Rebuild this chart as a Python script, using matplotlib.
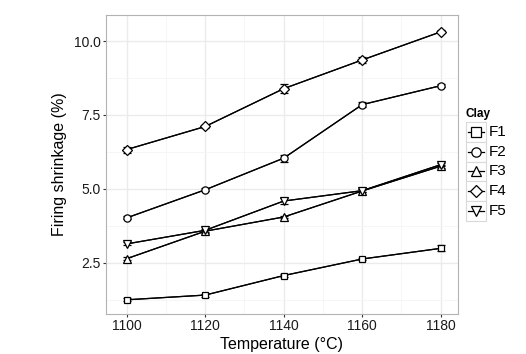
import matplotlib
matplotlib.use("Agg")
import matplotlib.pyplot as plt
from matplotlib.patches import Rectangle
from matplotlib.lines import Line2D

plt.rcParams['font.family'] = ['Liberation Sans', 'DejaVu Sans']

temps = [1100, 1120, 1140, 1160, 1180]
series_names = ["F1", "F2", "F3", "F4", "F5"]
F1 = [1.25, 1.41, 2.07, 2.63, 2.99]
F2 = [4.02, 4.97, 6.04, 7.85, 8.49]
F3 = [2.64, 3.57, 4.05, 4.93, 5.77]
F4 = [6.33, 7.11, 8.39, 9.36, 10.31]
F5 = [3.14, 3.60, 4.59, 4.94, 5.82]
F1_err = [0.05, 0.05, 0.05, 0.05, 0.10]
F2_err = [0.05, 0.05, 0.12, 0.08, 0.05]
F3_err = [0.05, 0.05, 0.05, 0.05, 0.05]
F4_err = [0.10, 0.05, 0.15, 0.10, 0.05]
F5_err = [0.05, 0.05, 0.10, 0.05, 0.05]
values = [F1, F2, F3, F4, F5]
errors = [F1_err, F2_err, F3_err, F4_err, F5_err]
markers = ['s', 'o', '^', 'D', 'v']
msizes = [5, 5.2, 5.6, 5.0, 5.6]

W, H = 526, 354
fig = plt.figure(figsize=(W / 100, H / 100), dpi=100)
ax = fig.add_axes([105.5 / W, (H - 314) / H, (458 - 105.5) / W, (314 - 15) / H])

for v, e, m, ms in zip(values, errors, markers, msizes):
    ax.errorbar(temps, v, yerr=e, color='black', lw=0.9, elinewidth=0.9,
                capsize=3, capthick=0.9, zorder=3)
    ax.plot(temps, v, color='black', lw=0.9, marker=m, markersize=ms,
            markerfacecolor='white', markeredgecolor='black', markeredgewidth=0.9,
            zorder=4)

ax.set_xlim(1094.6, 1184.4)
ax.set_ylim(0.77, 10.88)
ax.set_xticks(temps)
ax.set_xticks([1110, 1130, 1150, 1170], minor=True)
ax.set_yticks([2.5, 5.0, 7.5, 10.0])
ax.set_yticklabels(['2.5', '5.0', '7.5', '10.0'])
ax.set_yticks([1.25, 3.75, 6.25, 8.75], minor=True)
ax.grid(True, which='major', color='#EBEBEB', lw=1.0, zorder=0)
ax.grid(True, which='minor', color='#F5F5F5', lw=0.6, zorder=0)
ax.set_axisbelow(True)
ax.tick_params(axis='both', which='major', length=2, width=0.8, color='#333333',
               labelsize=10, labelcolor='#1a1a1a', pad=1.5)
ax.tick_params(axis='both', which='minor', length=0)
for s in ax.spines.values():
    s.set_color('#B3B3B3')
    s.set_linewidth(0.8)
ax.set_xlabel('Temperature (°C)', fontsize=11.5, labelpad=3)
ax.set_ylabel('Firing shrinkage (%)', fontsize=11.5, labelpad=5)

# legend (drawn manually, ggplot style)
fig.text(466 / W, (H - 114) / H, 'Clay', fontsize=8.5, fontweight='bold', va='center', ha='left')
key_w, key_h = 20.3, 19.7
x0 = 465.7
y_first = 132
for i, (name, m, ms) in enumerate(zip(series_names, markers, msizes)):
    yc = y_first + i * key_h
    rect = Rectangle((x0 / W, (H - yc - key_h / 2) / H), key_w / W, key_h / H,
                     transform=fig.transFigure, facecolor='white', edgecolor='#D9D9D9', lw=0.8)
    fig.add_artist(rect)
    fig.add_artist(Line2D([(x0 + 2) / W, (x0 + key_w - 2) / W], [(H - yc) / H] * 2,
                          transform=fig.transFigure, color='black', lw=0.9))
    fig.add_artist(Line2D([(x0 + key_w / 2) / W], [(H - yc) / H], transform=fig.transFigure,
                          marker=m, markersize=ms + 1.5, markerfacecolor='white',
                          markeredgecolor='black', markeredgewidth=0.9, lw=0))
    fig.text((x0 + key_w + 3) / W, (H - yc) / H, name, fontsize=11, va='center', ha='left')

fig.savefig('out.png', dpi=100)
